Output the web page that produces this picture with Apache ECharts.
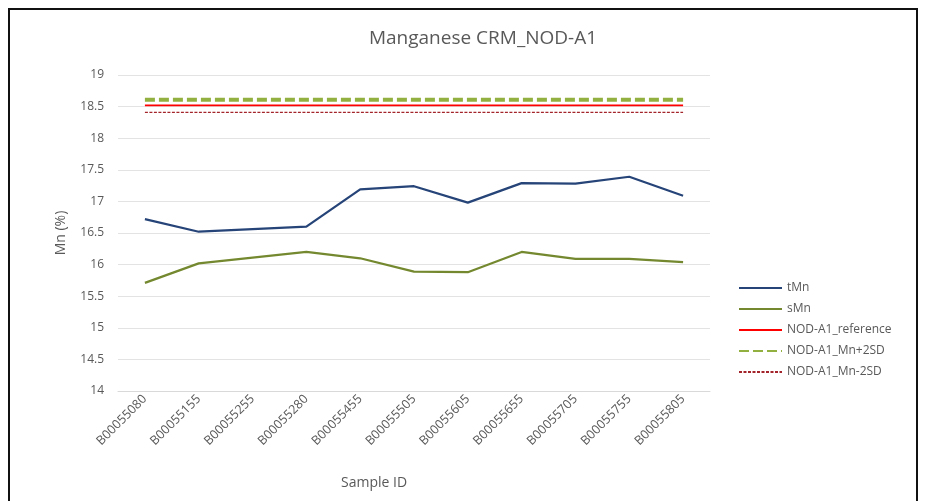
<!DOCTYPE html>
<html>
<head>
<meta charset="utf-8">
<script src="https://cdn.jsdelivr.net/npm/echarts@6/dist/echarts.min.js"></script>
<style>
  html, body { margin: 0; padding: 0; background: #fff; }
  #chart { width: 925px; height: 501px; }
</style>
</head>
<body>
<div id="chart"></div>
<script>
const sampleIds = ["B00055080", "B00055155", "B00055255", "B00055280", "B00055455", "B00055505",
  "B00055605", "B00055655", "B00055705", "B00055755", "B00055805"];
const tMn = [16.72, 16.52, 16.56, 16.60, 17.19, 17.24, 16.98, 17.29, 17.28, 17.39, 17.09];
const sMn = [15.71, 16.02, 16.11, 16.20, 16.10, 15.89, 15.88, 16.20, 16.09, 16.09, 16.04];
const refValue = 18.52;
const plus2SD = 18.61;
const minus2SD = 18.41;

const flat = (v) => sampleIds.map(() => v);
const labelColor = "#595959";
const fontFamily = "'Open Sans', 'Noto Sans', sans-serif";

const chart = echarts.init(document.getElementById("chart"));

function lineSeries(name, data, color, width, type) {
  return {
    name,
    type: "line",
    data,
    symbol: "none",
    silent: true,
    lineStyle: { color, width, type },
    itemStyle: { color },
  };
}

chart.setOption({
  backgroundColor: "#fff",
  animation: false,
  textStyle: { fontFamily },
  title: {
    text: "Manganese CRM_NOD-A1",
    left: 478,
    top: 24,
    textAlign: "center",
    textStyle: { color: labelColor, fontSize: 19, fontWeight: "normal", fontFamily },
  },
  grid: { left: 118, right: 215, top: 75, bottom: 110 },
  legend: {
    orient: "vertical",
    left: 733,
    top: 277,
    itemWidth: 43,
    itemHeight: 14,
    itemGap: 9,
    itemStyle: { opacity: 0 },
    textStyle: { color: labelColor, fontSize: 12, fontFamily },
    data: ["tMn", "sMn", "NOD-A1_reference", "NOD-A1_Mn+2SD", "NOD-A1_Mn-2SD"],
  },
  xAxis: {
    type: "category",
    data: sampleIds,
    boundaryGap: true,
    name: "Sample ID",
    nameLocation: "middle",
    nameGap: 85,
    nameTextStyle: { color: labelColor, fontSize: 14, fontFamily, padding: [0, 80, 0, 0] },
    axisLine: { lineStyle: { color: "#d9d9d9" } },
    axisTick: { show: false },
    axisLabel: { color: labelColor, fontSize: 12.5, rotate: 45, interval: 0, margin: 6 },
  },
  yAxis: {
    type: "value",
    min: 14,
    max: 19,
    interval: 0.5,
    name: "Mn (%)",
    nameLocation: "middle",
    nameGap: 50,
    nameTextStyle: { color: labelColor, fontSize: 14, fontFamily },
    axisLine: { show: false },
    axisTick: { show: false },
    axisLabel: { color: labelColor, fontSize: 12, margin: 14 },
    splitLine: { lineStyle: { color: "#e3e3e3", width: 1 } },
  },
  series: [
    lineSeries("tMn", tMn, "#264478", 2.25, "solid"),
    lineSeries("sMn", sMn, "#74892f", 2.25, "solid"),
    lineSeries("NOD-A1_reference", flat(refValue), "#ff0000", 1.75, "solid"),
    lineSeries("NOD-A1_Mn+2SD", flat(plus2SD), "#92b040", 4, [10, 4]),
    lineSeries("NOD-A1_Mn-2SD", flat(minus2SD), "#a3252b", 1.25, [3, 1.5]),
  ],
  graphic: [
    {
      type: "rect",
      shape: { x: 9, y: 9, width: 908, height: 500 },
      style: { fill: "none", stroke: "#111", lineWidth: 2 },
      silent: true,
    },
  ],
});
</script>
</body>
</html>
